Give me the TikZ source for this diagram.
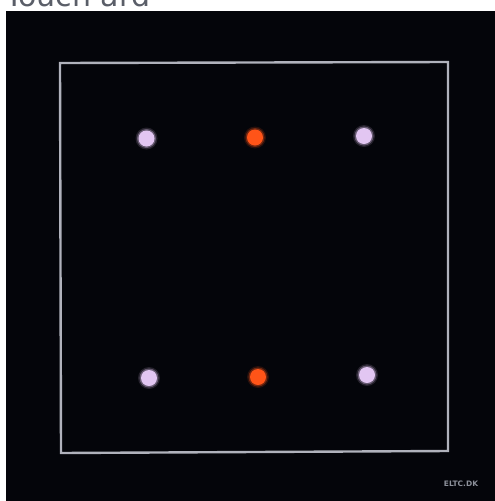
\documentclass[tikz,border=0pt]{standalone}
\usepackage{fontspec}
\setmainfont{DejaVu Sans}
\definecolor{frame}{HTML}{B0B2BC}
\definecolor{lav}{HTML}{E2C6F2}
\definecolor{org}{HTML}{FF5418}
\definecolor{ink}{HTML}{04050A}
\definecolor{cap}{HTML}{5A5E68}
\definecolor{brandc}{HTML}{8C909A}
\tikzset{
  dot/.style={circle, minimum size=16pt, inner sep=0pt, fill=#1},
  glow/.style={circle, minimum size=#1, inner sep=0pt}
}
\begin{document}
\begin{tikzpicture}[x=1pt,y=-1pt]
\useasboundingbox (0,0) rectangle (495,501);
\fill[white] (0,0) rectangle (495,501);
\node[anchor=base west, text=cap, font=\fontsize{30}{30}\selectfont, inner sep=0pt] (title) at (5,6) {Touch ard};
\fill[ink] (6,11) rectangle (495,501);
\draw[frame, line width=2.4pt, line join=miter] (60,63) -- (448,62) -- (448,451) -- (61,453) -- cycle;
\foreach \n/\x/\y/\c in {a/146.5/138.5/lav, b/255/137.5/org, c/364/136/lav, d/149/378/lav, e/258/377/org, f/367/375/lav}{
  \node[glow=22pt, fill=\c, opacity=0.15] at (\x,\y) {};
  \node[glow=19pt, fill=\c, opacity=0.35] at (\x,\y) {};
  \node[dot=\c] (\n) at (\x,\y) {};
}
\node[text=brandc, font=\bfseries\fontsize{7.5}{7.5}\selectfont, inner sep=0pt] (brand) at (461,484) {ELTC.DK};
\end{tikzpicture}
\end{document}
